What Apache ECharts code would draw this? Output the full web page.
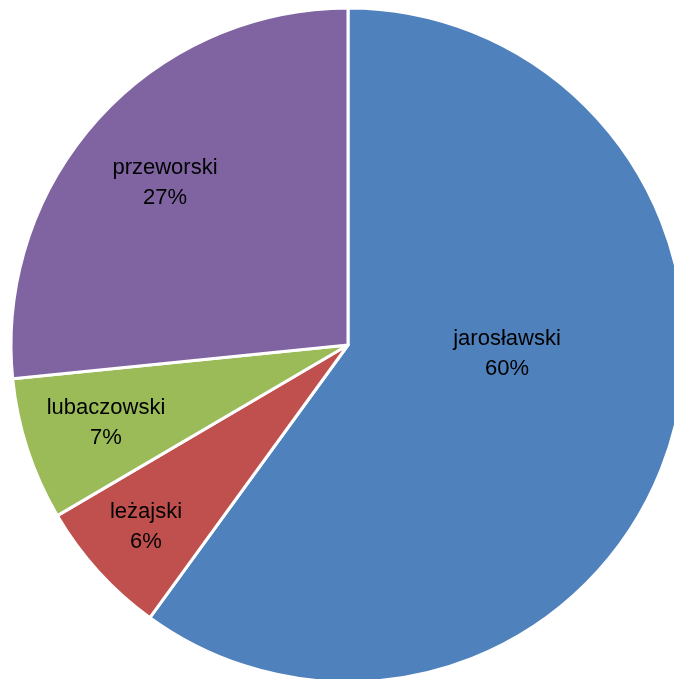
<!DOCTYPE html>
<html>
<head>
<meta charset="utf-8">
<script src="https://cdn.jsdelivr.net/npm/echarts@6/dist/echarts.min.js"></script>
<style>
html,body{margin:0;padding:0;background:#fff;}
#chart{width:674px;height:679px;}
</style>
</head>
<body>
<div id="chart"></div>
<script>
var categories = ['jarosławski', 'leżajski', 'lubaczowski', 'przeworski'];
var values = [60.0, 6.55, 6.85, 26.6];
var colors = ['#4F81BD', '#C0504D', '#9BBB59', '#8064A2'];
var labelSpots = [[507, 354], [146, 527], [106, 423], [165, 183]];

var chart = echarts.init(document.getElementById('chart'));
chart.setOption({
  animation: false,
  series: [{
    type: 'pie',
    center: [348, 345],
    radius: 337,
    startAngle: 90,
    clockwise: true,
    percentPrecision: 0,
    data: categories.map(function (c, i) {
      return { name: c, value: values[i], itemStyle: { color: colors[i] } };
    }),
    itemStyle: { borderColor: '#ffffff', borderWidth: 3 },
    label: {
      show: true,
      position: 'inside',
      formatter: '{b}\n{d}%',
      fontFamily: 'Liberation Sans',
      fontSize: 22,
      lineHeight: 30,
      color: '#000000',
      align: 'center'
    },
    labelLine: { show: false },
    labelLayout: function (params) {
      var p = labelSpots[params.dataIndex];
      return { x: p[0], y: p[1], align: 'center', verticalAlign: 'middle' };
    },
    emphasis: { disabled: true }
  }]
});
</script>
</body>
</html>
